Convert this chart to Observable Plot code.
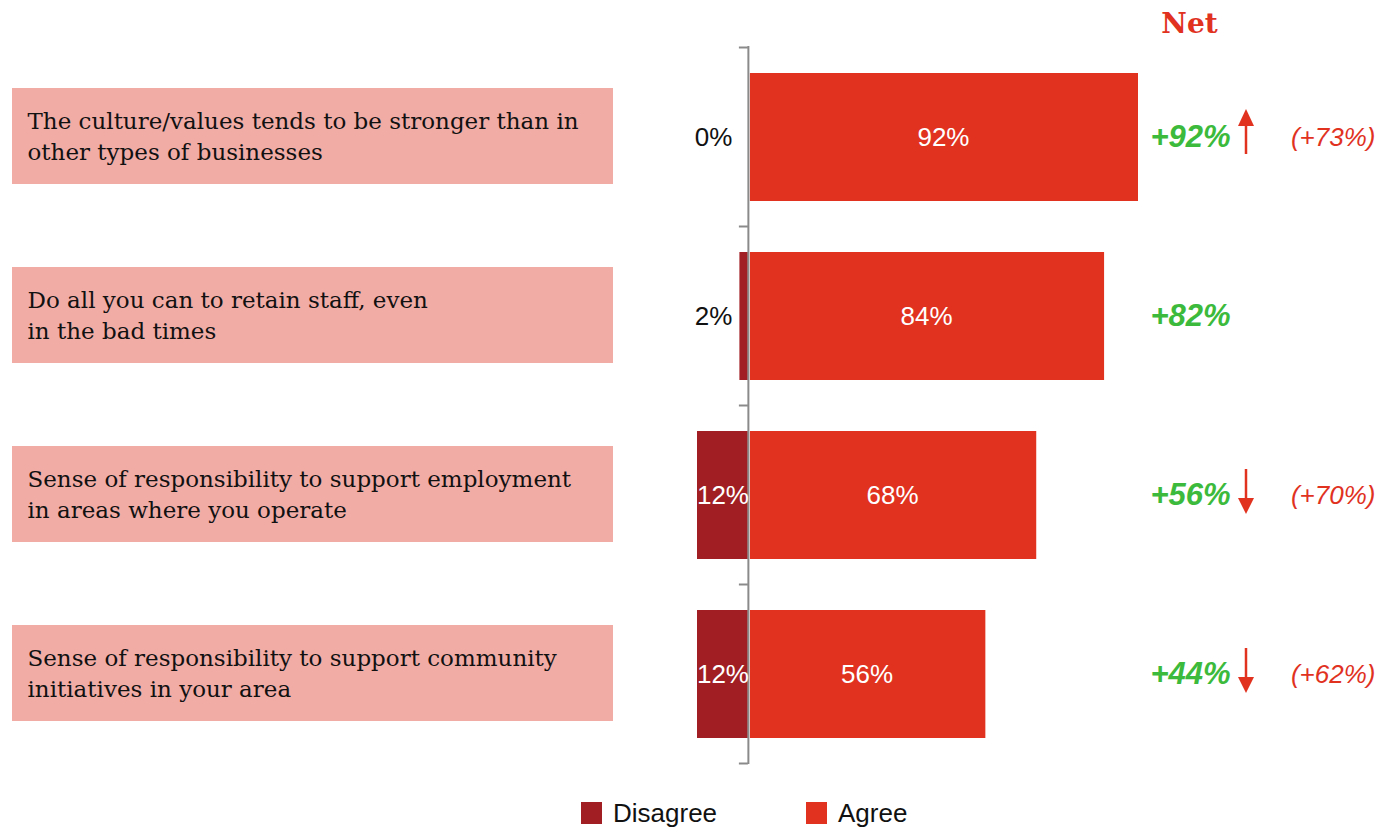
<!DOCTYPE html>
<html>
<head>
<meta charset="utf-8">
<script src="https://cdn.jsdelivr.net/npm/d3@7"></script>
<script src="https://cdn.jsdelivr.net/npm/@observablehq/plot@0.6"></script>
<style>
  body { margin: 0; background: #fff; }
  #chart { position: relative; width: 1377px; height: 828px; background: #fff; }
  .legend-item {
    position: absolute; top: 800px; height: 26px;
    display: flex; align-items: center; gap: 11px;
    font: 26px "Liberation Sans", Arial, sans-serif; color: #111;
  }
  .legend-item .swatch { width: 21px; height: 22px; display: inline-block; }
</style>
</head>
<body>
<div id="chart"></div>
<script>
// Survey statements (one row each) and response shares in percent
const statements = [
  "The culture/values tends to be stronger than in\nother types of businesses",
  "Do all you can to retain staff, even\nin the bad times",
  "Sense of responsibility to support employment\nin areas where you operate",
  "Sense of responsibility to support community\ninitiatives in your area"
];
const disagree = [0, 2, 12, 12];
const agree = [92, 84, 68, 56];
const netScore = [92, 82, 56, 44];
const previousNet = [73, null, 70, 62];
const trend = ["up", null, "down", "down"];

const seriesNames = ["Disagree", "Agree"];
const seriesColors = ["#a11f22", "#e0321f"];
const boxColor = "#f2aca6";
const netGreen = "#3cba3c";
const accentRed = "#e0321f";

const rows = statements.map((label, i) => ({
  label,
  disagree: disagree[i],
  agree: agree[i],
  net: netScore[i],
  prev: previousNet[i],
  trend: trend[i]
}));

const sans = "'Liberation Sans', Arial, sans-serif";
const serif = "'DejaVu Serif', 'Liberation Serif', serif";

const plot = Plot.plot({
  width: 1377,
  height: 775,
  marginTop: 46,
  marginBottom: 11,
  marginLeft: 697,
  marginRight: 239,
  x: {domain: [-12, 92], axis: null},
  y: {domain: statements, axis: null, paddingInner: 0.287, paddingOuter: 0.1435},
  style: {fontFamily: sans, background: "#fff", overflow: "visible"},
  marks: [
    // diverging bars
    Plot.barX(rows, {y: "label", x1: d => -d.disagree, x2: 0, fill: seriesColors[0]}),
    Plot.barX(rows, {y: "label", x1: 0, x2: "agree", fill: seriesColors[1], insetLeft: 2}),
    Plot.ruleX([0], {stroke: "#8a8a8a", strokeWidth: 2}),

    // value labels
    Plot.text(rows, {y: "label", x: d => d.agree / 2, text: d => `${d.agree}%`,
      fill: "white", fontSize: 26}),
    Plot.text(rows.filter(d => d.disagree >= 5), {y: "label", x: d => -d.disagree / 2,
      text: d => `${d.disagree}%`, fill: "white", fontSize: 26}),
    Plot.text(rows.filter(d => d.disagree < 5), {y: "label", x: 0, dx: -16, textAnchor: "end",
      text: d => `${d.disagree}%`, fill: "#111", fontSize: 26}),

    // statement labels on the left
    Plot.text(rows, {y: "label", text: "label", frameAnchor: "left", dx: -670, dy: -3,
      textAnchor: "start", lineAnchor: "middle", lineHeight: 1.36,
      fontSize: 23, fontFamily: serif, fill: "#111"}),

    // net column
    Plot.text(["Net"], {frameAnchor: "top-right", dx: 51, dy: -22, text: d => d,
      textAnchor: "middle", lineAnchor: "middle",
      fontFamily: serif, fontWeight: "bold", fontSize: 28, fill: accentRed}),
    Plot.text(rows, {y: "label", text: d => `+${d.net}%`, frameAnchor: "right", dx: 12,
      textAnchor: "start", fill: netGreen, fontSize: 31, fontWeight: "bold", fontStyle: "italic"}),
    Plot.text(rows.filter(d => d.prev != null), {y: "label", text: d => `(+${d.prev}%)`,
      frameAnchor: "right", dx: 237, textAnchor: "end", fill: accentRed,
      fontSize: 26, fontStyle: "italic"})
  ]
});

const svg = d3.select(plot);
const y = plot.scale("y");
const x = plot.scale("x");
const bw = y.bandwidth;
const step = y.step;
const x0 = x.apply(0);
const frameRight = 1377 - 239;

// pink statement boxes behind the labels
const boxes = svg.insert("g", ":first-child");
rows.forEach(d => {
  const cy = y.apply(d.label) + bw / 2;
  boxes.append("rect")
    .attr("x", 12).attr("y", cy - 49)
    .attr("width", 601).attr("height", 96)
    .attr("fill", boxColor);
});

// tick marks at the category boundaries
const ticks = svg.append("g").attr("stroke", "#8a8a8a").attr("stroke-width", 2);
const firstTop = y.apply(statements[0]) - (step - bw) / 2;
for (let k = 0; k <= statements.length; k++) {
  const yy = firstTop + k * step;
  ticks.append("line").attr("x1", x0 - 9).attr("x2", x0).attr("y1", yy).attr("y2", yy);
}

// change arrows next to the net score
const arrows = svg.append("g").attr("fill", accentRed).attr("stroke", accentRed);
rows.filter(d => d.trend).forEach(d => {
  const cy = y.apply(d.label) + bw / 2;
  const ax = frameRight + 108;
  if (d.trend === "up") {
    arrows.append("line").attr("x1", ax).attr("x2", ax).attr("y1", cy + 17).attr("y2", cy - 12).attr("stroke-width", 2.5);
    arrows.append("path").attr("stroke", "none")
      .attr("d", `M${ax},${cy - 28}L${ax + 8},${cy - 11}L${ax - 8},${cy - 11}Z`);
  } else {
    arrows.append("line").attr("x1", ax).attr("x2", ax).attr("y1", cy - 26).attr("y2", cy + 4).attr("stroke-width", 2.5);
    arrows.append("path").attr("stroke", "none")
      .attr("d", `M${ax},${cy + 19}L${ax + 8},${cy + 3}L${ax - 8},${cy + 3}Z`);
  }
});

const chart = document.getElementById("chart");
chart.appendChild(plot);

// legend below the chart
const legendLeft = [581, 806];
seriesNames.forEach((name, i) => {
  const item = document.createElement("div");
  item.className = "legend-item";
  item.style.left = legendLeft[i] + "px";
  const sw = document.createElement("span");
  sw.className = "swatch";
  sw.style.background = seriesColors[i];
  const label = document.createElement("span");
  label.textContent = name;
  item.appendChild(sw);
  item.appendChild(label);
  chart.appendChild(item);
});
</script>
</body>
</html>
